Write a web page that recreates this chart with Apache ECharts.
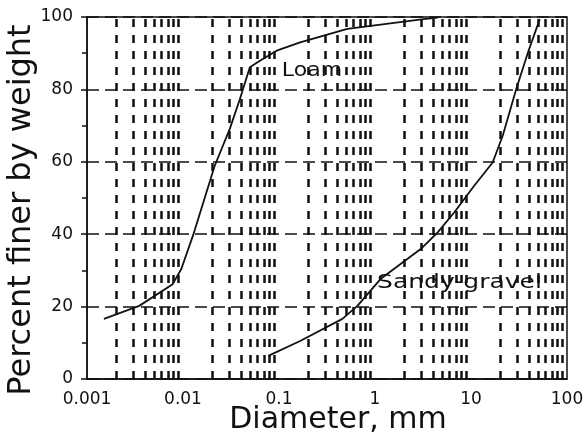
<!DOCTYPE html>
<html><head><meta charset="utf-8">
<script src="https://cdn.jsdelivr.net/npm/echarts@6/dist/echarts.min.js"></script>
<style>html,body{margin:0;padding:0;background:#fff}#c{width:587px;height:437px}</style>
</head><body><div id="c"></div>
<script>
// ---- data ----
const loamX = [0.0015, 0.0035, 0.0078, 0.0096, 0.0127, 0.0214, 0.0307, 0.0391, 0.0497, 0.0632, 0.0946, 0.166, 0.515, 3.2, 4.5];
const loamY = [16.6, 20.2, 26.2, 30.4, 39.6, 58.9, 69.1, 77.3, 86.1, 87.9, 90.7, 93.0, 96.7, 99.4, 99.8];
const gravelX = [0.0773, 0.166, 0.457, 0.656, 1.14, 2.99, 4.5, 6.68, 10.8, 16.8, 21.4, 29.6, 39.2, 52];
const gravelY = [6.4, 10.5, 16.6, 20.2, 27.6, 35.9, 40.5, 46.0, 53.4, 59.8, 67.2, 80.1, 90.2, 99.4];
const seriesNames = ['Loam', 'Sandy-gravel'];
const labelX = [0.107, 1.05];
const labelY = [85.2, 26.6];
const xTicks = [0.001, 0.01, 0.1, 1, 10, 100];
const xTickLabels = ['0.001', '0.01', '0.1', '1', '10', '100'];
const yTicks = [0, 20, 40, 60, 80, 100];
const decades = [0.001, 0.01, 0.1, 1, 10];
const minorMult = [2, 3, 4, 5, 6, 7, 8, 9];
const xTitle = 'Diameter, mm';
const yTitle = 'Percent finer by weight';

const minorVals = [];
decades.forEach(d => minorMult.forEach(m => minorVals.push(+(d * m).toPrecision(3))));
const tickVals = minorVals.concat(xTicks);

const chart = echarts.init(document.getElementById('c'), null, {renderer: 'canvas'});
const FONT = 'DejaVu Sans';
const ink = '#111';

const option = {
  animation: false,
  backgroundColor: '#fff',
  grid: {left: 87, right: 20, top: 17, bottom: 58, show: true, borderColor: ink, borderWidth: 1.5, backgroundColor: 'transparent'},
  xAxis: {
    type: 'log', logBase: 10, min: xTicks[0], max: xTicks[xTicks.length - 1],
    axisLine: {show: true, lineStyle: {color: ink, width: 1.5}},
    axisTick: {show: false},
    splitLine: {show: false},
    axisLabel: {
      color: ink, fontFamily: FONT, fontSize: 17, margin: 12,
      formatter: v => { const i = xTicks.findIndex(t => Math.abs(Math.log10(t) - Math.log10(v)) < 1e-6); return i >= 0 ? xTickLabels[i] : ''; }
    }
  },
  yAxis: {
    type: 'value', min: yTicks[0], max: yTicks[yTicks.length - 1], interval: 20,
    axisLine: {show: true, lineStyle: {color: ink, width: 1.5}},
    axisTick: {show: true, length: 6, lineStyle: {color: ink, width: 1.5}},
    minorTick: {show: true, splitNumber: 2, length: 5, lineStyle: {color: ink, width: 1.5}},
    splitLine: {show: true, lineStyle: {color: ink, width: 1.5, type: [12, 6]}},
    axisLabel: {color: ink, fontFamily: FONT, fontSize: 17, margin: 14}
  },
  series: [
    {
      name: seriesNames[0], type: 'line', symbol: 'none', smooth: false,
      lineStyle: {color: ink, width: 1.8},
      data: loamX.map((x, i) => [x, loamY[i]]),
      z: 5
    },
    {
      name: seriesNames[1], type: 'line', symbol: 'none', smooth: false,
      lineStyle: {color: ink, width: 1.8},
      data: gravelX.map((x, i) => [x, gravelY[i]]),
      z: 5
    },
    {
      name: 'grid', type: 'line', symbol: 'none', data: [], clip: false, z: 2,
      markLine: {
        silent: true, symbol: 'none', label: {show: false}, animation: false,
        lineStyle: {color: ink, width: 2.5, type: [8, 8]},
        data: minorVals.map(v => [{coord: [v, yTicks[0]]}, {coord: [v, yTicks[yTicks.length - 1]]}])
      }
    },
    {
      name: 'ticks', type: 'line', symbol: 'none', data: [], clip: false, z: 3,
      markLine: {
        silent: true, symbol: 'none', label: {show: false}, animation: false,
        lineStyle: {color: ink, width: 1.5, type: 'solid'},
        data: tickVals.map(v => [{coord: [v, -1.5]}, {coord: [v, 1.5]}])
      }
    }
  ]
};
chart.setOption(option);

const graphics = seriesNames.map((name, i) => {
  const p = chart.convertToPixel({gridIndex: 0}, [labelX[i], labelY[i]]);
  return {
    type: 'text', x: p[0], y: p[1], scaleX: i === 0 ? 1.1 : 1.25, z: 10,
    style: {text: name, fontFamily: FONT, fontSize: 20, fill: ink, textAlign: 'left', textVerticalAlign: 'middle'}
  };
});
graphics.push({
  type: 'text', x: 338, y: 420, z: 10,
  style: {text: xTitle, fontFamily: FONT, fontSize: 30, fill: ink, textAlign: 'center', textVerticalAlign: 'middle'}
});
graphics.push({
  type: 'text', x: 22, y: 210, rotation: Math.PI / 2, z: 10,
  style: {text: yTitle, fontFamily: FONT, fontSize: 32, fill: ink, textAlign: 'center', textVerticalAlign: 'middle'}
});
chart.setOption({graphic: graphics});
</script></body></html>
